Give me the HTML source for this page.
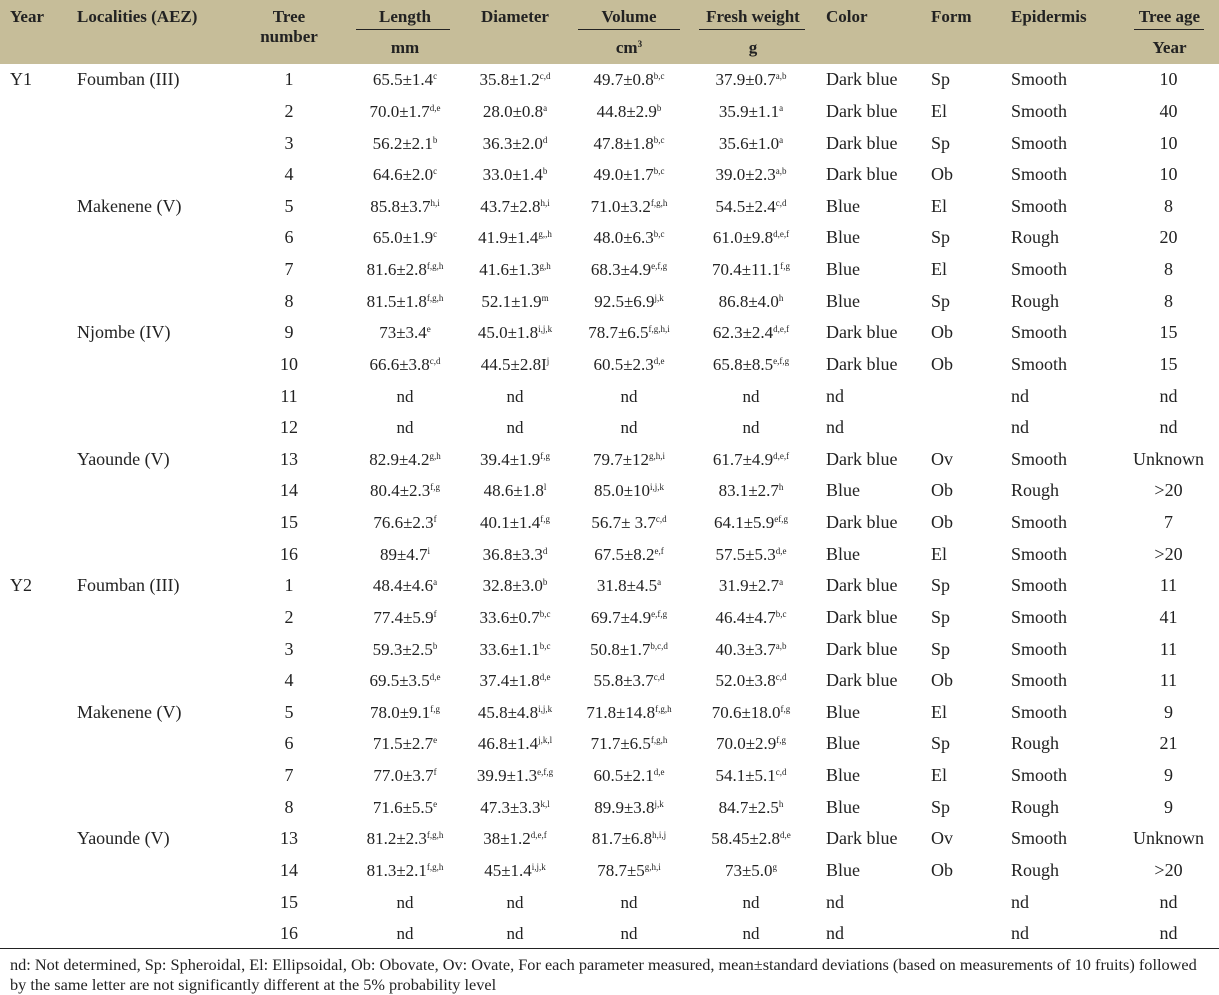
<!DOCTYPE html>
<html><head><meta charset="utf-8"><style>
body{margin:0;background:#fff;width:1219px;height:993px;overflow:hidden;font-family:"Liberation Serif",serif;color:#222;}
.hd{position:absolute;left:0;top:0;width:1219px;height:64px;background:#c6bd99;}
.hd div{position:absolute;font-weight:bold;font-size:17px;line-height:20px;}
.ul{position:absolute;top:29px;height:1px;background:#222;}
table{position:absolute;left:0;top:64px;border-collapse:collapse;table-layout:fixed;width:1219px;font-size:18px;}
td{height:31.63px;padding:0;line-height:31px;white-space:nowrap;}
td.l{padding-left:12px;text-align:left}
td.c{text-align:center}
td.n{text-align:center;font-size:17px}
sup{font-size:9px;line-height:0;vertical-align:6px}
.bl{position:absolute;left:0;top:948px;width:1219px;height:1px;background:#222;}
.ft{position:absolute;left:10px;top:955px;font-size:16.3px;line-height:20px;width:1205px;white-space:nowrap;}
</style></head><body>
<div class="hd">
<div style="left:10px;top:7px">Year</div>
<div style="left:77px;top:7px">Localities (AEZ)</div>
<div style="left:240px;top:7px;width:98px;text-align:center">Tree<br>number</div>
<div style="left:355px;top:7px;width:100px;text-align:center">Length</div>
<div style="left:355px;top:38px;width:100px;text-align:center">mm</div>
<div style="left:460px;top:7px;width:110px;text-align:center">Diameter</div>
<div style="left:575px;top:7px;width:108px;text-align:center">Volume</div>
<div style="left:575px;top:38px;width:108px;text-align:center">cm<sup>3</sup></div>
<div style="left:690px;top:7px;width:126px;text-align:center">Fresh weight</div>
<div style="left:690px;top:38px;width:126px;text-align:center">g</div>
<div style="left:826px;top:7px">Color</div>
<div style="left:931px;top:7px">Form</div>
<div style="left:1011px;top:7px">Epidermis</div>
<div style="left:1120px;top:7px;width:99px;text-align:center">Tree age</div>
<div style="left:1120px;top:38px;width:99px;text-align:center">Year</div>
</div>
<div class="ul" style="left:356px;width:94px"></div>
<div class="ul" style="left:578px;width:102px"></div>
<div class="ul" style="left:699px;width:106px"></div>
<div class="ul" style="left:1134px;width:70px"></div>
<table>
<colgroup><col style="width:67px"><col style="width:173px"><col style="width:98px"><col style="width:17px"><col style="width:100px"><col style="width:5px"><col style="width:110px"><col style="width:5px"><col style="width:108px"><col style="width:5px"><col style="width:126px"><col style="width:105px"><col style="width:80px"><col style="width:119px"><col style="width:101px"></colgroup>
<tr><td class="l" style="padding-left:10px">Y1</td><td class="l" style="padding-left:10px">Foumban (III)</td><td class="c">1</td><td></td><td class="n">65.5±1.4<sup>c</sup></td><td></td><td class="n">35.8±1.2<sup>c,d</sup></td><td></td><td class="n">49.7±0.8<sup>b,c</sup></td><td></td><td class="n">37.9±0.7<sup>a,b</sup></td><td class="l">Dark blue</td><td class="l">Sp</td><td class="l">Smooth</td><td class="c">10</td></tr>
<tr><td></td><td></td><td class="c">2</td><td></td><td class="n">70.0±1.7<sup>d,e</sup></td><td></td><td class="n">28.0±0.8<sup>a</sup></td><td></td><td class="n">44.8±2.9<sup>b</sup></td><td></td><td class="n">35.9±1.1<sup>a</sup></td><td class="l">Dark blue</td><td class="l">El</td><td class="l">Smooth</td><td class="c">40</td></tr>
<tr><td></td><td></td><td class="c">3</td><td></td><td class="n">56.2±2.1<sup>b</sup></td><td></td><td class="n">36.3±2.0<sup>d</sup></td><td></td><td class="n">47.8±1.8<sup>b,c</sup></td><td></td><td class="n">35.6±1.0<sup>a</sup></td><td class="l">Dark blue</td><td class="l">Sp</td><td class="l">Smooth</td><td class="c">10</td></tr>
<tr><td></td><td></td><td class="c">4</td><td></td><td class="n">64.6±2.0<sup>c</sup></td><td></td><td class="n">33.0±1.4<sup>b</sup></td><td></td><td class="n">49.0±1.7<sup>b,c</sup></td><td></td><td class="n">39.0±2.3<sup>a,b</sup></td><td class="l">Dark blue</td><td class="l">Ob</td><td class="l">Smooth</td><td class="c">10</td></tr>
<tr><td></td><td class="l" style="padding-left:10px">Makenene (V)</td><td class="c">5</td><td></td><td class="n">85.8±3.7<sup>h,i</sup></td><td></td><td class="n">43.7±2.8<sup>h,i</sup></td><td></td><td class="n">71.0±3.2<sup>f,g,h</sup></td><td></td><td class="n">54.5±2.4<sup>c,d</sup></td><td class="l">Blue</td><td class="l">El</td><td class="l">Smooth</td><td class="c">8</td></tr>
<tr><td></td><td></td><td class="c">6</td><td></td><td class="n">65.0±1.9<sup>c</sup></td><td></td><td class="n">41.9±1.4<sup>g,,h</sup></td><td></td><td class="n">48.0±6.3<sup>b,c</sup></td><td></td><td class="n">61.0±9.8<sup>d,e,f</sup></td><td class="l">Blue</td><td class="l">Sp</td><td class="l">Rough</td><td class="c">20</td></tr>
<tr><td></td><td></td><td class="c">7</td><td></td><td class="n">81.6±2.8<sup>f,g,h</sup></td><td></td><td class="n">41.6±1.3<sup>g,h</sup></td><td></td><td class="n">68.3±4.9<sup>e,f,g</sup></td><td></td><td class="n">70.4±11.1<sup>f,g</sup></td><td class="l">Blue</td><td class="l">El</td><td class="l">Smooth</td><td class="c">8</td></tr>
<tr><td></td><td></td><td class="c">8</td><td></td><td class="n">81.5±1.8<sup>f,g,h</sup></td><td></td><td class="n">52.1±1.9<sup>m</sup></td><td></td><td class="n">92.5±6.9<sup>j,k</sup></td><td></td><td class="n">86.8±4.0<sup>h</sup></td><td class="l">Blue</td><td class="l">Sp</td><td class="l">Rough</td><td class="c">8</td></tr>
<tr><td></td><td class="l" style="padding-left:10px">Njombe (IV)</td><td class="c">9</td><td></td><td class="n">73±3.4<sup>e</sup></td><td></td><td class="n">45.0±1.8<sup>i,j,k</sup></td><td></td><td class="n">78.7±6.5<sup>f,g,h,i</sup></td><td></td><td class="n">62.3±2.4<sup>d,e,f</sup></td><td class="l">Dark blue</td><td class="l">Ob</td><td class="l">Smooth</td><td class="c">15</td></tr>
<tr><td></td><td></td><td class="c">10</td><td></td><td class="n">66.6±3.8<sup>c,d</sup></td><td></td><td class="n">44.5±2.8I<sup>j</sup></td><td></td><td class="n">60.5±2.3<sup>d,e</sup></td><td></td><td class="n">65.8±8.5<sup>e,f,g</sup></td><td class="l">Dark blue</td><td class="l">Ob</td><td class="l">Smooth</td><td class="c">15</td></tr>
<tr><td></td><td></td><td class="c">11</td><td></td><td class="n">nd</td><td></td><td class="n">nd</td><td></td><td class="n">nd</td><td></td><td class="n">nd</td><td class="l">nd</td><td class="l"></td><td class="l">nd</td><td class="c">nd</td></tr>
<tr><td></td><td></td><td class="c">12</td><td></td><td class="n">nd</td><td></td><td class="n">nd</td><td></td><td class="n">nd</td><td></td><td class="n">nd</td><td class="l">nd</td><td class="l"></td><td class="l">nd</td><td class="c">nd</td></tr>
<tr><td></td><td class="l" style="padding-left:10px">Yaounde (V)</td><td class="c">13</td><td></td><td class="n">82.9±4.2<sup>g,h</sup></td><td></td><td class="n">39.4±1.9<sup>f,g</sup></td><td></td><td class="n">79.7±12<sup>g,h,i</sup></td><td></td><td class="n">61.7±4.9<sup>d,e,f</sup></td><td class="l">Dark blue</td><td class="l">Ov</td><td class="l">Smooth</td><td class="c">Unknown</td></tr>
<tr><td></td><td></td><td class="c">14</td><td></td><td class="n">80.4±2.3<sup>f,g</sup></td><td></td><td class="n">48.6±1.8<sup>l</sup></td><td></td><td class="n">85.0±10<sup>i,j,k</sup></td><td></td><td class="n">83.1±2.7<sup>h</sup></td><td class="l">Blue</td><td class="l">Ob</td><td class="l">Rough</td><td class="c">&gt;20</td></tr>
<tr><td></td><td></td><td class="c">15</td><td></td><td class="n">76.6±2.3<sup>f</sup></td><td></td><td class="n">40.1±1.4<sup>f,g</sup></td><td></td><td class="n">56.7± 3.7<sup>c,d</sup></td><td></td><td class="n">64.1±5.9<sup>ef,g</sup></td><td class="l">Dark blue</td><td class="l">Ob</td><td class="l">Smooth</td><td class="c">7</td></tr>
<tr><td></td><td></td><td class="c">16</td><td></td><td class="n">89±4.7<sup>i</sup></td><td></td><td class="n">36.8±3.3<sup>d</sup></td><td></td><td class="n">67.5±8.2<sup>e,f</sup></td><td></td><td class="n">57.5±5.3<sup>d,e</sup></td><td class="l">Blue</td><td class="l">El</td><td class="l">Smooth</td><td class="c">&gt;20</td></tr>
<tr><td class="l" style="padding-left:10px">Y2</td><td class="l" style="padding-left:10px">Foumban (III)</td><td class="c">1</td><td></td><td class="n">48.4±4.6<sup>a</sup></td><td></td><td class="n">32.8±3.0<sup>b</sup></td><td></td><td class="n">31.8±4.5<sup>a</sup></td><td></td><td class="n">31.9±2.7<sup>a</sup></td><td class="l">Dark blue</td><td class="l">Sp</td><td class="l">Smooth</td><td class="c">11</td></tr>
<tr><td></td><td></td><td class="c">2</td><td></td><td class="n">77.4±5.9<sup>f</sup></td><td></td><td class="n">33.6±0.7<sup>b,c</sup></td><td></td><td class="n">69.7±4.9<sup>e,f,g</sup></td><td></td><td class="n">46.4±4.7<sup>b,c</sup></td><td class="l">Dark blue</td><td class="l">Sp</td><td class="l">Smooth</td><td class="c">41</td></tr>
<tr><td></td><td></td><td class="c">3</td><td></td><td class="n">59.3±2.5<sup>b</sup></td><td></td><td class="n">33.6±1.1<sup>b,c</sup></td><td></td><td class="n">50.8±1.7<sup>b,c,d</sup></td><td></td><td class="n">40.3±3.7<sup>a,b</sup></td><td class="l">Dark blue</td><td class="l">Sp</td><td class="l">Smooth</td><td class="c">11</td></tr>
<tr><td></td><td></td><td class="c">4</td><td></td><td class="n">69.5±3.5<sup>d,e</sup></td><td></td><td class="n">37.4±1.8<sup>d,e</sup></td><td></td><td class="n">55.8±3.7<sup>c,d</sup></td><td></td><td class="n">52.0±3.8<sup>c,d</sup></td><td class="l">Dark blue</td><td class="l">Ob</td><td class="l">Smooth</td><td class="c">11</td></tr>
<tr><td></td><td class="l" style="padding-left:10px">Makenene (V)</td><td class="c">5</td><td></td><td class="n">78.0±9.1<sup>f,g</sup></td><td></td><td class="n">45.8±4.8<sup>i,j,k</sup></td><td></td><td class="n">71.8±14.8<sup>f,g,h</sup></td><td></td><td class="n">70.6±18.0<sup>f,g</sup></td><td class="l">Blue</td><td class="l">El</td><td class="l">Smooth</td><td class="c">9</td></tr>
<tr><td></td><td></td><td class="c">6</td><td></td><td class="n">71.5±2.7<sup>e</sup></td><td></td><td class="n">46.8±1.4<sup>j,k,l</sup></td><td></td><td class="n">71.7±6.5<sup>f,g,h</sup></td><td></td><td class="n">70.0±2.9<sup>f,g</sup></td><td class="l">Blue</td><td class="l">Sp</td><td class="l">Rough</td><td class="c">21</td></tr>
<tr><td></td><td></td><td class="c">7</td><td></td><td class="n">77.0±3.7<sup>f</sup></td><td></td><td class="n">39.9±1.3<sup>e,f,g</sup></td><td></td><td class="n">60.5±2.1<sup>d,e</sup></td><td></td><td class="n">54.1±5.1<sup>c,d</sup></td><td class="l">Blue</td><td class="l">El</td><td class="l">Smooth</td><td class="c">9</td></tr>
<tr><td></td><td></td><td class="c">8</td><td></td><td class="n">71.6±5.5<sup>e</sup></td><td></td><td class="n">47.3±3.3<sup>k,l</sup></td><td></td><td class="n">89.9±3.8<sup>j,k</sup></td><td></td><td class="n">84.7±2.5<sup>h</sup></td><td class="l">Blue</td><td class="l">Sp</td><td class="l">Rough</td><td class="c">9</td></tr>
<tr><td></td><td class="l" style="padding-left:10px">Yaounde (V)</td><td class="c">13</td><td></td><td class="n">81.2±2.3<sup>f,g,h</sup></td><td></td><td class="n">38±1.2<sup>d,e,f</sup></td><td></td><td class="n">81.7±6.8<sup>h,i,j</sup></td><td></td><td class="n">58.45±2.8<sup>d,e</sup></td><td class="l">Dark blue</td><td class="l">Ov</td><td class="l">Smooth</td><td class="c">Unknown</td></tr>
<tr><td></td><td></td><td class="c">14</td><td></td><td class="n">81.3±2.1<sup>f,g,h</sup></td><td></td><td class="n">45±1.4<sup>i,j,k</sup></td><td></td><td class="n">78.7±5<sup>g,h,i</sup></td><td></td><td class="n">73±5.0<sup>g</sup></td><td class="l">Blue</td><td class="l">Ob</td><td class="l">Rough</td><td class="c">&gt;20</td></tr>
<tr><td></td><td></td><td class="c">15</td><td></td><td class="n">nd</td><td></td><td class="n">nd</td><td></td><td class="n">nd</td><td></td><td class="n">nd</td><td class="l">nd</td><td class="l"></td><td class="l">nd</td><td class="c">nd</td></tr>
<tr><td></td><td></td><td class="c">16</td><td></td><td class="n">nd</td><td></td><td class="n">nd</td><td></td><td class="n">nd</td><td></td><td class="n">nd</td><td class="l">nd</td><td class="l"></td><td class="l">nd</td><td class="c">nd</td></tr>
</table>
<div class="bl"></div>
<div class="ft">nd: Not determined, Sp: Spheroidal, El: Ellipsoidal, Ob: Obovate, Ov: Ovate, For each parameter measured, mean±standard deviations (based on measurements of 10 fruits) followed<br>by the same letter are not significantly different at the 5% probability level</div>
</body></html>
